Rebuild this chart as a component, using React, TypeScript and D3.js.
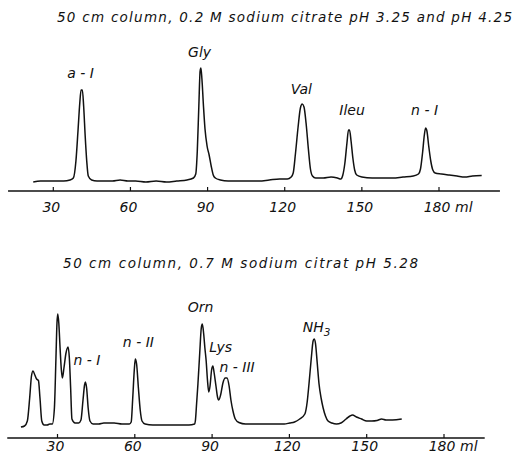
import React from "react";
import * as d3 from "d3";

const W = 516;
const H = 453;

const tickValues = [30, 60, 90, 120, 150, 180];
const volumeUnit = "ml";

const topTitle = "50 cm column, 0.2 M sodium citrate pH 3.25 and pH 4.25";
const bottomTitle = "50 cm column, 0.7 M sodium citrat pH 5.28";

// upper chromatogram: effluent volume (ml) and detector signal (arbitrary units)
const topVolume = [
  22.2, 25, 28, 31, 34, 36.5, 37.8, 38.8, 39.6, 40.3, 40.8, 41.3, 41.8, 42.4, 43.0, 43.6, 44.9,
  47, 50, 53, 56, 59, 62, 66, 70, 74, 78, 82, 84.5,
  85.4, 86.0, 86.6, 87.1, 87.4, 87.8, 88.4, 89.0, 89.8, 90.6, 91.4, 92.2, 93.0, 95,
  98, 102, 106, 110, 114, 118, 121, 122.5,
  123.3, 124.2, 125.2, 126.1, 126.8, 127.5, 128.3, 129.2, 130.0, 130.8, 132,
  135, 138, 140.5, 141.8,
  142.6, 143.4, 144.2, 144.8, 145.2, 145.8, 146.5, 147.2, 148.0, 150,
  154, 158, 162, 166, 170, 172.0,
  172.8, 173.6, 174.3, 174.8, 175.3, 176.0, 176.8, 177.6, 178.5,
  181, 184, 187, 190, 193, 196.6,
];
const topSignal = [
  0.09, 0.1, 0.1, 0.1, 0.1, 0.11, 0.13, 0.3, 0.6, 0.88, 1.01, 1.01, 0.85, 0.55, 0.3, 0.15, 0.11,
  0.1, 0.1, 0.1, 0.11, 0.1, 0.1, 0.09, 0.1, 0.09, 0.1, 0.11, 0.13,
  0.17, 0.4, 0.85, 1.2, 1.23, 1.12, 0.85, 0.62, 0.45, 0.36, 0.25, 0.16, 0.13, 0.11,
  0.1, 0.1, 0.1, 0.1, 0.11, 0.12, 0.12, 0.14,
  0.18, 0.38, 0.64, 0.83, 0.87, 0.84, 0.68, 0.42, 0.22, 0.15, 0.13,
  0.13, 0.14, 0.13, 0.12,
  0.16, 0.28, 0.48, 0.61, 0.61, 0.5, 0.33, 0.21, 0.16, 0.14,
  0.13, 0.13, 0.13, 0.14, 0.15, 0.17,
  0.22, 0.38, 0.56, 0.63, 0.6, 0.45, 0.3, 0.21, 0.18,
  0.17, 0.16, 0.15, 0.14, 0.15, 0.155,
];

// lower chromatogram
const bottomVolume = [
  15.8, 17.2, 18.3, 19.2, 19.9, 20.5, 21.2, 21.9, 22.6, 23.2, 23.9, 24.8, 26, 27, 28,
  28.8, 29.4, 29.8, 30.1, 30.5, 31.0, 31.5, 31.9, 32.5, 33.3, 34.1, 34.6, 35.1, 35.6, 36.8, 38.2,
  39.1, 39.9, 40.5, 40.8, 41.3, 41.9, 42.6, 43.8, 46, 48, 50.1, 52, 55, 57.9,
  58.6, 59.2, 59.8, 60.2, 60.7, 61.4, 62.1, 62.8, 64, 67, 70, 74, 78, 81, 83.2,
  83.5, 84.0, 84.5, 85.2, 85.8, 86.2, 86.7, 87.2, 87.7, 88.2, 88.7, 89.2, 89.8, 90.3, 90.8,
  91.5, 92.1, 92.6, 93.3, 94.2, 95.1, 95.8, 96.6, 97.3, 98.1, 99.0, 100.4,
  103, 106, 110, 114, 118, 120.1, 122, 124, 126,
  126.9, 127.6, 128.5, 129.2, 129.6, 130.1, 130.8, 131.5, 132.3, 133.1, 134, 135, 136.5, 138.3,
  140, 142, 143.5, 144.5, 146, 148, 150, 152, 154, 155.8, 157.5, 160, 163.6,
];
const bottomSignal = [
  0.11, 0.12, 0.17, 0.4, 0.62, 0.67, 0.63, 0.59, 0.575, 0.4, 0.17, 0.13, 0.13, 0.14, 0.14,
  0.3, 0.8, 1.15, 1.24, 1.15, 0.9, 0.68, 0.6, 0.7, 0.85, 0.91, 0.8, 0.5, 0.19, 0.15, 0.15,
  0.18, 0.38, 0.53, 0.56, 0.5, 0.3, 0.17, 0.14, 0.14, 0.15, 0.15, 0.15, 0.14, 0.14,
  0.16, 0.4, 0.68, 0.79, 0.74, 0.5, 0.28, 0.17, 0.14, 0.13, 0.13, 0.13, 0.13, 0.13, 0.14,
  0.17, 0.35, 0.54, 0.85, 1.1, 1.14, 1.05, 0.9, 0.77, 0.58, 0.46, 0.52, 0.68, 0.72, 0.65,
  0.52, 0.41, 0.38, 0.43, 0.55, 0.6, 0.6, 0.52, 0.38, 0.27, 0.19, 0.155,
  0.14, 0.14, 0.14, 0.14, 0.14, 0.15, 0.16, 0.19, 0.24,
  0.36, 0.54, 0.8, 0.97, 0.99, 0.95, 0.75, 0.54, 0.4, 0.3, 0.22, 0.17, 0.15, 0.14,
  0.15, 0.19, 0.22, 0.23, 0.21, 0.19, 0.17, 0.17, 0.175, 0.19, 0.18, 0.18, 0.19,
];

const topPeakNames = ["a - I", "Gly", "Val", "Ileu", "n - I"];
const topPeakVolume = [40.6, 86.9, 126.5, 146.2, 174.4];
const topPeakLevel = [1.13, 1.34, 0.97, 0.76, 0.76];

const bottomPeakNames = ["n - I", "n - II", "Orn", "Lys", "n - III", "NH3"];
const bottomPeakVolume = [41.4, 61.4, 85.5, 93.3, 99.7, 130.6];
const bottomPeakLevel = [0.73, 0.91, 1.26, 0.86, 0.66, 1.06];

const FONT = "'DejaVu Sans', 'Liberation Sans', sans-serif";

type PanelProps = {
  title: string;
  titleX: number;
  titleY: number;
  titleLen: number;
  xDomain: [number, number];
  xRange: [number, number];
  axisExtent: [number, number];
  yRange: [number, number];
  volume: number[];
  signal: number[];
  names: string[];
  peakVol: number[];
  peakLevel: number[];
  labelGap: number;
};

function PeakLabel({ name, x, y }: { name: string; x: number; y: number }) {
  const m = name.match(/^([A-Za-z]+)(\d)$/);
  if (m) {
    return (
      <text x={x} y={y} textAnchor="middle">
        <tspan>{m[1]}</tspan>
        <tspan dy={4} fontSize={10.5}>{m[2]}</tspan>
      </text>
    );
  }
  return (
    <text x={x} y={y} textAnchor="middle">
      {name}
    </text>
  );
}

function Panel(p: PanelProps) {
  const x = d3.scaleLinear().domain(p.xDomain).range(p.xRange);
  const y = d3.scaleLinear().domain([0, 1.3]).range(p.yRange);
  const pts = p.volume.map((v, i) => [v, p.signal[i]] as [number, number]);
  const line = d3
    .line<[number, number]>()
    .x((d) => x(d[0]))
    .y((d) => y(d[1]))
    .curve(d3.curveMonotoneX);
  const y0 = y(0);
  return (
    <g fontFamily={FONT} fontStyle="italic" fill="#111">
      <text
        x={p.titleX}
        y={p.titleY}
        fontSize={13.5}
        textLength={p.titleLen}
        lengthAdjust="spacing"
      >
        {p.title}
      </text>
      <line
        x1={x(p.axisExtent[0])}
        x2={x(p.axisExtent[1])}
        y1={y0}
        y2={y0}
        stroke="#111"
        strokeWidth={1.3}
      />
      {tickValues.map((t) => (
        <g key={t}>
          <line x1={x(t)} x2={x(t)} y1={y0} y2={y0 - 4} stroke="#111" strokeWidth={1.2} />
          <text x={x(t) - 2} y={y0 + p.labelGap} fontSize={14} textAnchor="middle">
            {t}
          </text>
        </g>
      ))}
      <text x={x(180) + 16} y={y0 + p.labelGap} fontSize={14}>
        {volumeUnit}
      </text>
      <path d={line(pts) || ""} fill="none" stroke="#111" strokeWidth={1.5} strokeLinejoin="round" />
      <g fontSize={14}>
        {p.names.map((n, i) => (
          <PeakLabel key={n + i} name={n} x={x(p.peakVol[i])} y={y(p.peakLevel[i])} />
        ))}
      </g>
    </g>
  );
}

export default function App() {
  return (
    <svg
      width={W}
      height={H}
      style={{ position: "absolute", left: 0, top: 0, background: "#fff" }}
    >
      <rect width={W} height={H} fill="#fff" />
      <Panel
        title={topTitle}
        titleX={57}
        titleY={22}
        titleLen={455}
        xDomain={[30, 180]}
        xRange={[53.3, 439]}
        axisExtent={[12.4, 203.7]}
        yRange={[191, 61]}
        volume={topVolume}
        signal={topSignal}
        names={topPeakNames}
        peakVol={topPeakVolume}
        peakLevel={topPeakLevel}
        labelGap={21}
      />
      <Panel
        title={bottomTitle}
        titleX={63}
        titleY={268}
        titleLen={355}
        xDomain={[30, 180]}
        xRange={[57.5, 444]}
        axisExtent={[10.5, 195.8]}
        yRange={[438, 308]}
        volume={bottomVolume}
        signal={bottomSignal}
        names={bottomPeakNames}
        peakVol={bottomPeakVolume}
        peakLevel={bottomPeakLevel}
        labelGap={13}
      />
    </svg>
  );
}
